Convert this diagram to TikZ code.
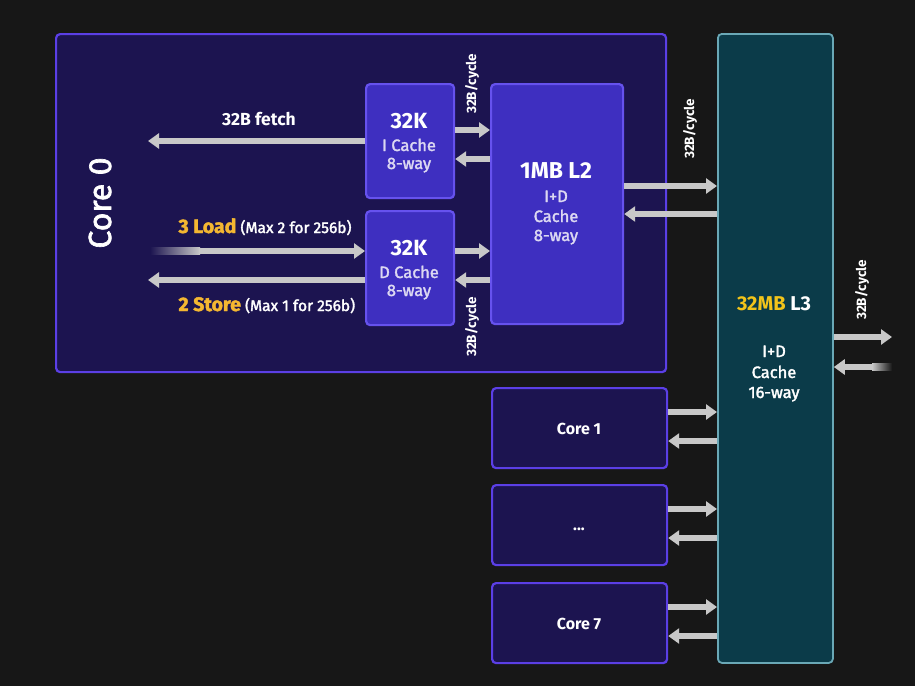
\documentclass[tikz,border=0pt]{standalone}
\usepackage{fontspec}
\setmainfont{Fira Sans}
\newfontfamily\medfont{Fira Sans}[FakeBold=2]
\usetikzlibrary{arrows.meta}

\definecolor{bgdark}{HTML}{171717}
\definecolor{corefill}{HTML}{1C1450}
\definecolor{coreline}{HTML}{5B3FE6}
\definecolor{cachefill}{HTML}{3E2FC0}
\definecolor{cacheline}{HTML}{6652EE}
\definecolor{lthreefill}{HTML}{0B3B49}
\definecolor{lthreeline}{HTML}{6AA8B6}
\definecolor{busgray}{HTML}{C8C8C8}
\definecolor{subgray}{HTML}{DCD8F2}
\definecolor{loadorange}{HTML}{F4B731}
\definecolor{mbyellow}{HTML}{F2C41A}

\tikzset{
  corebox/.style={draw=coreline, fill=corefill, line width=2.2pt, rounded corners=4pt,
    anchor=north west, inner sep=0pt},
  cachebox/.style={corebox, draw=cacheline, fill=cachefill},
  lthreebox/.style={corebox, draw=lthreeline, fill=lthreefill, line width=1.8pt},
  bus/.style={-{Triangle[length=11pt,width=15pt]}, draw=busgray, line width=6.5pt},
  headtxt/.style={text=white, anchor=base, font=\bfseries\fontsize{22}{22}\selectfont},
  subtxt/.style={text=subgray, anchor=base, font=\medfont\fontsize{16.5}{16.5}\selectfont},
  ratetxt/.style={text=white, rotate=90, font=\bfseries\fontsize{13.5}{13.5}\selectfont},
  coretxt/.style={text=white, anchor=base, font=\bfseries\fontsize{16}{16}\selectfont},
}

\begin{document}
\begin{tikzpicture}[x=1pt, y=-1pt, line join=round]

  % background, 915 x 686
  \useasboundingbox (0,0) rectangle (915,686);
  \fill[bgdark] (0,0) rectangle (915,686);

  % ---- boxes ----
  \node[corebox, minimum width=610pt, minimum height=338pt] (core0) at (55,33) {};
  \node[cachebox, minimum width=88pt, minimum height=114pt] (icache) at (365,83) {};
  \node[cachebox, minimum width=88pt, minimum height=114pt] (dcache) at (365,210) {};
  \node[cachebox, minimum width=132pt, minimum height=240pt] (ltwo) at (490,83) {};
  \node[lthreebox, minimum width=115pt, minimum height=629pt] (lthree) at (717,33) {};
  \node[corebox, minimum width=175pt, minimum height=80pt] (core1) at (491,387) {};
  \node[corebox, minimum width=175pt, minimum height=80pt] (coredots) at (491,484) {};
  \node[corebox, minimum width=175pt, minimum height=80pt] (core7) at (491,582) {};

  % ---- texts ----
  \node[text=white, rotate=90, font=\medfont\fontsize{32}{32}\selectfont] (corezero) at (100,203) {Core 0};

  \node[headtxt] (ick) at (409,128) {32K};
  \node[subtxt] (icname) at (409,151) {I Cache};
  \node[subtxt] (icway) at (409,169) {8-way};

  \node[headtxt] (dck) at (409,255) {32K};
  \node[subtxt] (dcname) at (409,278) {D Cache};
  \node[subtxt] (dcway) at (409,296) {8-way};

  \node[headtxt, font=\bfseries\fontsize{23}{23}\selectfont] (ltwomb) at (556,178) {1MB L2};
  \node[subtxt] (ltwoid) at (556,202) {I+D};
  \node[subtxt] (ltwoname) at (556,222) {Cache};
  \node[subtxt] (ltwoway) at (556,241) {8-way};

  \node[headtxt, font=\bfseries\fontsize{20}{20}\selectfont] (lthreemb) at (774,310)
    {\textcolor{mbyellow}{32MB} L3};
  \node[subtxt, text=white] (lthreeid) at (774,357) {I+D};
  \node[subtxt, text=white] (lthreename) at (774,378) {Cache};
  \node[subtxt, text=white] (lthreeway) at (774,398) {16-way};

  \node[coretxt] (coreonetxt) at (579,434) {Core 1};
  \node[coretxt] (coredotstxt) at (579,530) {...};
  \node[coretxt] (coreseventxt) at (579,629) {Core 7};

  \node[text=white, anchor=base, font=\bfseries\fontsize{17.5}{17.5}\selectfont] (fetchtxt) at (259,125) {32B fetch};
  \node[text=white, anchor=base west, font=\medfont\fontsize{15.5}{15.5}\selectfont] (loadtxt) at (175,233)
    {\textcolor{loadorange}{\bfseries\fontsize{19.5}{19.5}\selectfont 3 Load} (Max 2 for 256b)};
  \node[text=white, anchor=base west, font=\medfont\fontsize{15.5}{15.5}\selectfont] (storetxt) at (175,311)
    {\textcolor{loadorange}{\bfseries\fontsize{19.5}{19.5}\selectfont 2 Store} (Max 1 for 256b)};

  \node[ratetxt] (rateup) at (472,84) {32B/cycle};
  \node[ratetxt] (ratedown) at (472,327) {32B/cycle};
  \node[ratetxt] (ratelthree) at (690,129) {32B/cycle};
  \node[ratetxt] (rateext) at (862,290) {32B/cycle};

  % ---- free ends ----
  \coordinate (fetchend) at (148,141);
  \coordinate (loadstart) at (150,251);
  \coordinate (storeend) at (148,280);
  \coordinate (extout) at (892,337);
  \coordinate (extin) at (892,367);

  % ---- core 0 buses ----
  \draw[bus] (icache.west |- fetchend) -- (fetchend);
  \shade[left color=corefill, right color=busgray] (150,247.75) rectangle (200,254.25);
  \draw[bus] (199,251) -- (dcache.west |- loadstart);
  \draw[bus] (dcache.west |- storeend) -- (storeend);

  \draw[bus] (icache.east |- 0,130) -- (ltwo.west |- 0,130);
  \draw[bus] (ltwo.west |- 0,159) -- (icache.east |- 0,159);
  \draw[bus] (dcache.east |- 0,251) -- (ltwo.west |- 0,251);
  \draw[bus] (ltwo.west |- 0,280) -- (dcache.east |- 0,280);

  % ---- L2 <-> L3 ----
  \draw[bus] (ltwo.east |- 0,186) -- (lthree.west |- 0,186);
  \draw[bus] (lthree.west |- 0,214) -- (ltwo.east |- 0,214);

  % ---- other cores <-> L3 ----
  \foreach \c/\yo/\yi in {core1/412/441, coredots/509/538, core7/607/636} {
    \draw[bus] (\c.east |- 0,\yo) -- (lthree.west |- 0,\yo);
    \draw[bus] (lthree.west |- 0,\yi) -- (\c.east |- 0,\yi);
  }

  % ---- L3 <-> outside ----
  \draw[bus] (lthree.east |- extout) -- (extout);
  \shade[left color=busgray, right color=bgdark] (872,363.75) rectangle (892,370.25);
  \draw[bus] (873,367) -- (lthree.east |- extin);

\end{tikzpicture}
\end{document}
